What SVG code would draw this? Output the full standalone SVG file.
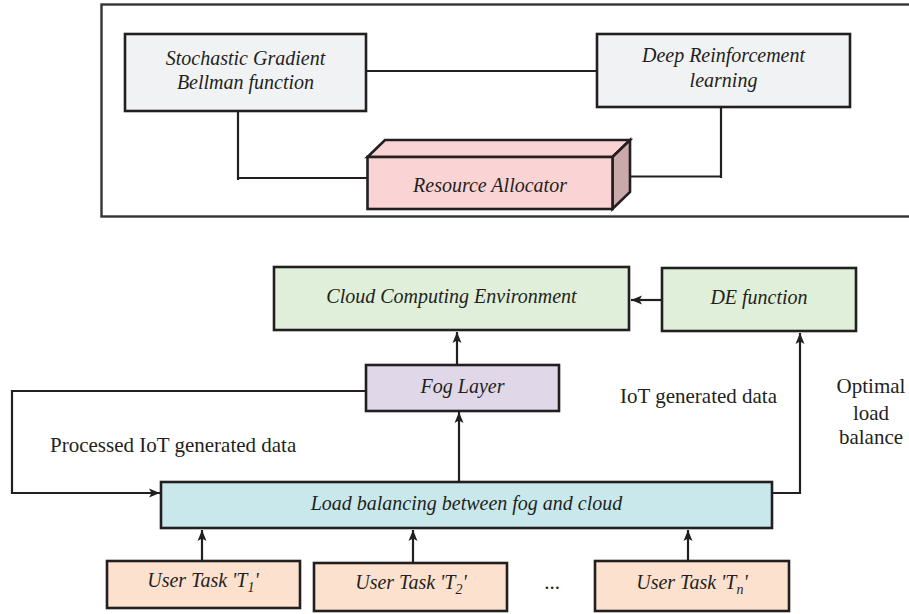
<svg xmlns="http://www.w3.org/2000/svg" width="909" height="614" viewBox="0 0 909 614">
<defs>
<style>
.box{stroke:#231f20;stroke-width:2.6}
.ln{fill:none;stroke:#231f20;stroke-width:2.2}
.it{font-family:"Liberation Serif","Times New Roman",serif;font-style:italic;font-size:20px;fill:#231f20;text-anchor:middle}
.rg{font-family:"Liberation Serif","Times New Roman",serif;font-size:21px;fill:#231f20}
.gray{fill:#f1f2f4}
.green{fill:#e0efd9}
.fog{fill:#e0d8e8}
.lb{fill:#c8e8ec}
.task{fill:#fde1cf}
</style>
<marker id="arr" markerUnits="userSpaceOnUse" markerWidth="12" markerHeight="10" refX="11" refY="5" orient="auto">
<path d="M0,0.5 L11,5 L0,9.5 L2.5,5 z" fill="#231f20"/>
</marker>
</defs>
<rect width="909" height="614" fill="#ffffff"/>
<rect x="101.5" y="4.5" width="830" height="212" fill="none" stroke="#333333" stroke-width="2.4"/>

<g id="connectors">
<path class="ln" d="M366,71 H597"/>
<path class="ln" d="M238,111 V180 M238,178 H368"/>
<path class="ln" d="M721,107 V178 M722,176.5 H620"/>
<path class="ln" d="M661,300 H631" marker-end="url(#arr)"/>
<path class="ln" d="M457,365 V332" marker-end="url(#arr)"/>
<path class="ln" d="M459,482 V412" marker-end="url(#arr)"/>
<path class="ln" d="M366,391 H12 V493 H160" marker-end="url(#arr)"/>
<path class="ln" d="M770,493 H800 V333" marker-end="url(#arr)"/>
<path class="ln" d="M202,561 V530" marker-end="url(#arr)"/>
<path class="ln" d="M413,563 V530" marker-end="url(#arr)"/>
<path class="ln" d="M688,561 V530" marker-end="url(#arr)"/>
</g>

<g id="sgb">
<rect class="box gray" x="125" y="34" width="241" height="77"/>
<text class="it" x="245.5" y="65">Stochastic Gradient</text>
<text class="it" x="245.5" y="89">Bellman function</text>
</g>
<g id="drl">
<rect class="box gray" x="597" y="34" width="253" height="73"/>
<text class="it" x="723.5" y="62">Deep Reinforcement</text>
<text class="it" x="723.5" y="87">learning</text>
</g>
<g id="allocator">
<polygon class="box" fill="#fad4d4" points="367.5,157 385,140 630,140 612.5,157"/>
<polygon class="box" fill="#c9a9aa" points="612.5,157 630,140 630,192 612.5,209"/>
<rect class="box" fill="#fad4d4" x="367.5" y="157" width="245" height="52"/>
<text class="it" x="490" y="192">Resource Allocator</text>
</g>

<g id="cloud">
<rect class="box green" x="274" y="267" width="355" height="63"/>
<text class="it" x="451.5" y="303">Cloud Computing Environment</text>
</g>
<g id="de">
<rect class="box green" x="662" y="268" width="194" height="63"/>
<text class="it" x="759" y="304">DE function</text>
</g>
<g id="fog">
<rect class="box fog" x="366" y="365" width="193" height="46"/>
<text class="it" x="462.5" y="393">Fog Layer</text>
</g>
<g id="lb">
<rect class="box lb" x="161" y="482" width="611" height="46"/>
<text class="it" x="466.5" y="510">Load balancing between fog and cloud</text>
</g>
<g id="t1">
<rect class="box task" x="107" y="561" width="193" height="47"/>
<text class="it" x="203" y="587">User Task 'T<tspan font-size="14" dy="5">1</tspan><tspan dy="-5">'</tspan></text>
</g>
<g id="t2">
<rect class="box task" x="314" y="563" width="193" height="48"/>
<text class="it" x="411" y="589">User Task 'T<tspan font-size="14" dy="5">2</tspan><tspan dy="-5">'</tspan></text>
</g>
<text class="rg" x="552" y="589" text-anchor="middle" font-size="16">...</text>
<g id="tn">
<rect class="box task" x="595" y="561" width="194" height="50"/>
<text class="it" x="692" y="589">User Task 'T<tspan font-size="14" dy="5">n</tspan><tspan dy="-5">'</tspan></text>
</g>

<g id="labels">
<text class="rg" x="50" y="452">Processed IoT generated data</text>
<text class="rg" x="620" y="403">IoT generated data</text>
<text class="rg" x="871" y="393" text-anchor="middle">Optimal</text>
<text class="rg" x="871" y="420" text-anchor="middle">load</text>
<text class="rg" x="871" y="444" text-anchor="middle">balance</text>
</g>
</svg>
